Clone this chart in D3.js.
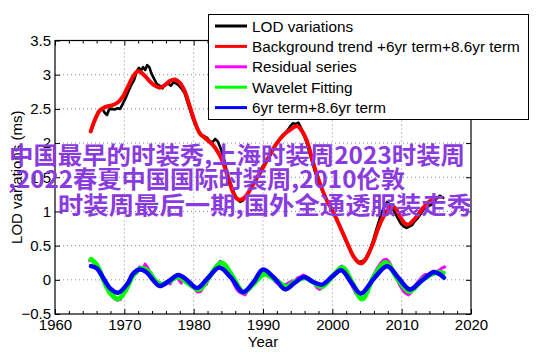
<!DOCTYPE html>
<html><head><meta charset="utf-8">
<script src="https://cdn.jsdelivr.net/npm/d3@7"></script>
<style>html,body{margin:0;padding:0;background:#fff;}svg{display:block;}</style>
</head><body>
<svg id="chart" width="542" height="356"></svg>
<script>
// ---- data ----
const lodYears = [1965.2,1965.6,1966.0,1966.4,1966.8,1967.2,1967.5,1967.8,1968.2,1968.6,1969.0,1969.4,1969.8,1970.2,1970.6,1971.0,1971.4,1971.8,1972.1,1972.4,1972.7,1973.0,1973.3,1973.6,1973.9,1974.3,1974.7,1975.1,1975.5,1975.9,1976.3,1976.7,1977.1,1977.5,1977.9,1978.3,1978.7,1979.1,1979.5,1979.9,1980.3,1980.7,1981.1,1981.5,1981.9,1982.3,1982.7,1983.1,1983.5,1983.9,1984.3,1984.7,1985.1,1985.5,1985.9,1986.3,1986.7,1987.1,1987.5,1987.9,1988.3,1988.7,1989.1,1989.5,1989.9,1990.3,1990.7,1991.1,1991.5,1991.9,1992.3,1992.7,1993.1,1993.5,1993.9,1994.3,1994.7,1995.1,1995.5,1995.9,1996.3,1996.7,1997.1,1997.5,1997.9,1998.3,1998.7,1999.1,1999.5,1999.9,2000.3,2000.7,2001.1,2001.5,2001.9,2002.3,2002.7,2003.1,2003.5,2003.9,2004.3,2004.7,2005.1,2005.5,2005.9,2006.3,2006.7,2007.1,2007.5,2007.9,2008.3,2008.7,2009.1,2009.5,2009.9,2010.3,2010.7,2011.1,2011.5,2011.9,2012.3,2012.7,2013.1,2013.5,2013.9,2014.3,2014.7,2015.1,2015.5,2016.0];
const lodValues = [2.18,2.30,2.40,2.47,2.50,2.44,2.41,2.49,2.50,2.49,2.51,2.50,2.58,2.66,2.76,2.85,2.92,3.05,3.10,3.06,3.11,3.07,3.14,3.11,3.02,2.94,2.86,2.84,2.80,2.86,2.87,2.84,2.89,2.87,2.84,2.79,2.73,2.60,2.48,2.35,2.25,2.18,2.12,2.10,2.08,2.03,2.01,2.06,2.02,1.92,1.80,1.62,1.48,1.36,1.25,1.18,1.14,1.16,1.21,1.27,1.35,1.42,1.50,1.57,1.65,1.71,1.76,1.83,1.90,1.98,2.05,2.10,2.14,2.18,2.24,2.29,2.28,2.30,2.22,2.12,2.00,1.86,1.72,1.58,1.46,1.36,1.27,1.18,1.10,1.03,0.96,0.88,0.78,0.68,0.58,0.50,0.42,0.34,0.29,0.26,0.27,0.30,0.37,0.46,0.58,0.72,0.85,0.98,1.07,1.14,1.10,1.04,0.96,0.89,0.82,0.78,0.76,0.78,0.80,0.86,0.90,0.96,1.02,1.06,1.08,1.10,1.15,1.19,1.23,1.20];

const trendYears = [1965.15,1965.8,1966.5,1967.3,1968.2,1969.0,1969.8,1970.5,1971.3,1972.0,1972.8,1973.6,1974.4,1975.1,1975.9,1976.6,1977.3,1978.0,1978.7,1979.4,1980.2,1980.9,1981.8,1982.8,1983.6,1984.3,1985.0,1985.6,1986.2,1986.8,1987.5,1988.2,1989.0,1990.0,1991.0,1992.0,1993.0,1994.0,1994.9,1995.6,1996.3,1997.0,1997.7,1998.5,1999.3,2000.0,2001.0,2002.1,2003.0,2003.7,2004.2,2004.8,2005.4,2005.9,2006.6,2007.4,2008.1,2008.8,2009.4,2009.9,2010.5,2011.0,2011.6,2012.2,2013.0,2013.8,2014.5,2015.0];
const trendValues = [2.17,2.35,2.48,2.53,2.55,2.59,2.68,2.82,2.98,3.05,3.00,2.91,2.84,2.81,2.85,2.91,2.93,2.88,2.76,2.55,2.30,2.14,2.06,1.97,1.85,1.70,1.48,1.30,1.19,1.17,1.22,1.33,1.47,1.64,1.83,2.00,2.12,2.20,2.25,2.18,2.04,1.80,1.56,1.33,1.14,1.02,0.80,0.55,0.35,0.26,0.24,0.30,0.42,0.54,0.75,0.93,1.04,1.07,1.00,0.90,0.82,0.81,0.86,0.93,1.04,1.13,1.17,1.20];

const residualYears = [1965.0,1965.4,1965.8,1966.2,1966.6,1967.0,1967.4,1967.8,1968.2,1968.6,1969.0,1969.4,1969.8,1970.2,1970.6,1971.0,1971.4,1971.8,1972.2,1972.6,1973.0,1973.4,1973.8,1974.2,1974.6,1975.0,1975.4,1975.8,1976.2,1976.6,1977.0,1977.4,1977.8,1978.2,1978.6,1979.0,1979.4,1979.8,1980.2,1980.6,1981.0,1981.4,1981.8,1982.2,1982.6,1983.0,1983.4,1983.8,1984.2,1984.6,1985.0,1985.4,1985.8,1986.2,1986.6,1987.0,1987.4,1987.8,1988.2,1988.6,1989.0,1989.4,1989.8,1990.2,1990.6,1991.0,1991.4,1991.8,1992.2,1992.6,1993.0,1993.4,1993.8,1994.2,1994.6,1995.0,1995.4,1995.8,1996.2,1996.6,1997.0,1997.4,1997.8,1998.2,1998.6,1999.0,1999.4,1999.8,2000.2,2000.6,2001.0,2001.4,2001.8,2002.2,2002.6,2003.0,2003.4,2003.8,2004.2,2004.6,2005.0,2005.4,2005.8,2006.2,2006.6,2007.0,2007.4,2007.8,2008.2,2008.6,2009.0,2009.4,2009.8,2010.2,2010.6,2011.0,2011.4,2011.8,2012.2,2012.6,2013.0,2013.4,2013.8,2014.2,2014.6,2015.0,2015.4,2015.8,2016.2];
const residualValues = [0.28,0.30,0.22,0.20,0.12,0.02,-0.08,-0.17,-0.24,-0.28,-0.30,-0.29,-0.22,-0.15,-0.05,0.03,0.12,0.10,0.19,0.14,0.23,0.17,0.10,0.04,-0.03,-0.04,-0.08,-0.05,-0.02,-0.06,0.03,0.06,0.01,-0.05,0.04,-0.02,-0.07,-0.08,-0.14,-0.18,-0.17,-0.10,-0.07,0.02,0.10,0.15,0.22,0.27,0.25,0.18,0.10,0.03,-0.06,-0.14,-0.18,-0.20,-0.22,-0.16,-0.12,-0.05,-0.01,0.05,0.07,0.09,0.06,0.04,0.02,-0.03,-0.06,-0.07,-0.08,-0.06,-0.04,-0.02,-0.01,0.03,0.04,0.07,0.05,0.03,-0.02,-0.05,-0.12,-0.14,-0.11,-0.07,-0.02,0.03,0.08,0.12,0.18,0.20,0.16,0.08,-0.03,-0.12,-0.20,-0.25,-0.27,-0.25,-0.18,-0.08,0.04,0.12,0.19,0.25,0.29,0.30,0.26,0.18,0.09,-0.01,-0.09,-0.16,-0.20,-0.22,-0.18,-0.10,-0.05,0.00,0.05,0.08,0.06,0.10,0.13,0.12,0.14,0.17,0.19];

const waveletYears = [1965.2,1966.0,1967.0,1968.0,1969.1,1970.2,1971.3,1972.5,1973.5,1974.5,1975.4,1976.5,1977.8,1979.2,1980.8,1982.3,1984.0,1985.6,1987.2,1988.7,1990.2,1991.8,1993.4,1994.6,1996.0,1997.2,1998.5,2000.0,2001.5,2002.9,2004.3,2006.0,2007.7,2009.5,2011.1,2013.0,2014.7,2016.0];
const waveletValues = [0.30,0.22,0.00,-0.20,-0.28,-0.15,0.07,0.17,0.12,-0.02,-0.07,-0.02,0.04,-0.05,-0.14,0.05,0.25,0.05,-0.18,-0.05,0.08,0.00,-0.10,-0.03,0.03,-0.03,-0.10,0.05,0.18,-0.05,-0.28,0.05,0.25,0.00,-0.17,0.00,0.10,0.10];

const termYears = [1965.2,1966.0,1967.0,1968.0,1969.1,1970.5,1971.2,1972.2,1973.2,1974.2,1975.1,1976.4,1977.8,1979.0,1980.5,1982.0,1983.7,1985.4,1987.1,1988.6,1990.0,1991.6,1993.2,1994.5,1995.9,1997.2,1998.5,2000.0,2001.3,2002.8,2004.1,2006.0,2007.9,2009.6,2011.2,2012.8,2014.6,2015.5,2016.1];
const termValues = [0.20,0.17,0.02,-0.13,-0.19,-0.05,0.08,0.15,0.11,-0.01,-0.09,-0.02,0.07,0.00,-0.12,0.02,0.18,0.03,-0.18,-0.04,0.15,0.03,-0.14,-0.05,0.04,-0.03,-0.07,0.05,0.14,-0.05,-0.20,0.02,0.20,0.02,-0.14,-0.02,0.11,0.08,0.03];

const xTicks = [1960,1970,1980,1990,2000,2010,2020];
const yTicks = [-0.5,0,0.5,1,1.5,2,2.5,3,3.5];
const legendLabels = ["LOD variations","Background trend +6yr term+8.6yr term","Residual series","Wavelet Fitting","6yr term+8.6yr term"];
const overlayLines = ["中国最早的时装秀,上海时装周2023时装周", ",2022春夏中国国际时装周,2010伦敦", "时装周最后一期,国外全通透服装走秀"];

// ---- drawing ----
const svg = d3.select("#chart");
const L = 55, R = 471, T = 40.5, B = 314;
const x = d3.scaleLinear().domain([1960, 2020]).range([L, R]);
const y = d3.scaleLinear().domain([-0.5, 3.5]).range([B, T]);
const font = "'Liberation Sans', Arial, Helvetica, sans-serif";

// grid
const grid = svg.append("g").attr("stroke", "#8c8c8c").attr("stroke-width", 1).attr("stroke-dasharray", "1,3");
xTicks.slice(1, -1).forEach(t => grid.append("line").attr("x1", x(t)).attr("x2", x(t)).attr("y1", T).attr("y2", B));
yTicks.slice(1, -1).forEach(t => grid.append("line").attr("x1", L).attr("x2", R).attr("y1", y(t)).attr("y2", y(t)));

// axes
const fmt = d3.format("~g");
svg.append("g").attr("transform", `translate(0,${B})`)
  .call(d3.axisBottom(x).tickValues(xTicks).tickSize(-5).tickPadding(5).tickFormat(d3.format("d")));
svg.append("g").attr("transform", `translate(0,${T})`)
  .call(d3.axisTop(x).tickValues(xTicks).tickSize(-5).tickFormat(""));
const minorX = d3.range(1962, 2020, 2).filter(v => v % 10 !== 0);
svg.append("g").attr("transform", `translate(0,${B})`).call(d3.axisBottom(x).tickValues(minorX).tickSize(-3).tickFormat(""));
svg.append("g").attr("transform", `translate(0,${T})`).call(d3.axisTop(x).tickValues(minorX).tickSize(-3).tickFormat(""));
svg.append("g").attr("transform", `translate(${L},0)`)
  .call(d3.axisLeft(y).tickValues(yTicks).tickSize(-5).tickPadding(4).tickFormat(fmt));
svg.append("g").attr("transform", `translate(${R},0)`)
  .call(d3.axisRight(y).tickValues(yTicks).tickSize(-5).tickFormat(""));
svg.selectAll(".domain").remove();
svg.selectAll(".tick line").attr("stroke", "#000");
svg.selectAll(".tick text").attr("font-family", font).attr("font-size", 15).attr("fill", "#000");

// box
svg.append("rect").attr("x", L).attr("y", T).attr("width", R - L).attr("height", B - T)
  .attr("fill", "none").attr("stroke", "#000").attr("stroke-width", 1.2);

// axis titles
svg.append("text").attr("x", (L + R) / 2).attr("y", 347).attr("text-anchor", "middle")
  .attr("font-family", font).attr("font-size", 15).text("Year");
svg.append("text").attr("transform", `translate(22,${(T + B) / 2}) rotate(-90)`).attr("text-anchor", "middle")
  .attr("font-family", font).attr("font-size", 15).text("LOD variations (ms)");

// curves
const plot = svg.append("g");
function series(xs, vs, color, w, curve) {
  const pts = xs.map((t, i) => [t, vs[i]]);
  plot.append("path").datum(pts)
    .attr("d", d3.line().x(d => x(d[0])).y(d => y(d[1])).curve(curve))
    .attr("fill", "none").attr("stroke", color).attr("stroke-width", w)
    .attr("stroke-linejoin", "round").attr("stroke-linecap", "round");
}
series(lodYears, lodValues, "#000000", 2.6, d3.curveLinear);
series(trendYears, trendValues, "#ff0000", 4, d3.curveCatmullRom);
series(residualYears, residualValues, "#ff00ff", 3, d3.curveLinear);
series(waveletYears, waveletValues, "#00ff00", 5, d3.curveCatmullRom);
series(termYears, termValues, "#0000ff", 4.5, d3.curveCatmullRom);

// legend
const colors = ["#000000", "#ff0000", "#ff00ff", "#00ff00", "#0000ff"];
const lg = svg.append("g");
lg.append("rect").attr("x", 208.5).attr("y", 14.5).attr("width", 320).attr("height", 105)
  .attr("fill", "#fff").attr("stroke", "#000").attr("stroke-width", 1);
legendLabels.forEach((lab, i) => {
  const cy = 26 + i * 20.4;
  lg.append("line").attr("x1", 215).attr("x2", 247).attr("y1", cy).attr("y2", cy)
    .attr("stroke", colors[i]).attr("stroke-width", 3);
  lg.append("text").attr("x", 252).attr("y", cy + 5.5).attr("font-family", font).attr("font-size", 15.3).text(lab);
});

// overlay text
const ov = svg.append("g").attr("font-family", "'Noto Sans CJK SC', sans-serif").attr("font-size", 24)
  .attr("font-weight", "bold").attr("fill", "#8a3be0");
const ovX = [9, 8, 58], ovY = [163.5, 187.5, 213.5], ovW = [456, 397, 414];
overlayLines.forEach((s, i) => ov.append("text").attr("x", ovX[i]).attr("y", ovY[i])
  .attr("textLength", ovW[i]).attr("lengthAdjust", "spacingAndGlyphs").text(s));
</script>
</body></html>
